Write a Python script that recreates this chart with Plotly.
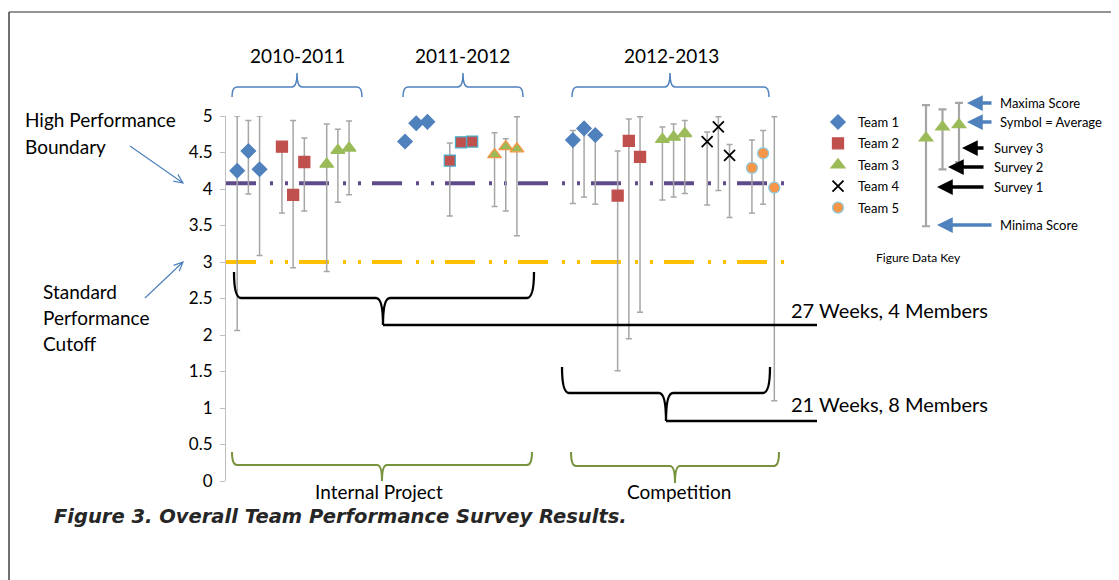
import plotly.graph_objects as go
import numpy as np

# page body has an 8px margin: figure covers the window from (8, 8) onwards
OX, OY = 8, 8
W, H = 1119 - OX, 580 - OY

# ---------------- data ----------------
periods = ["2010-2011", "2011-2012", "2012-2013"]
period_teams = [[1, 2, 3], [1, 2, 3], [1, 2, 3, 4, 5]]
team_names = ["Team 1", "Team 2", "Team 3", "Team 4", "Team 5"]

t1_avg = [4.25, 4.52, 4.27, 4.65, 4.90, 4.92, 4.67, 4.83, 4.74]
t1_max = [5.00, 4.94, 5.00, None, None, None, 4.80, 4.88, 4.79]
t1_min = [2.06, 3.93, 3.09, None, None, None, 3.80, 3.89, 3.79]

t2_avg = [4.58, 3.92, 4.37, 4.39, 4.64, 4.65, 3.91, 4.66, 4.44]
t2_max = [4.62, 4.94, 4.70, 4.63, None, None, 4.52, 4.96, 4.99]
t2_min = [3.67, 2.92, 3.70, 3.63, None, None, 1.51, 1.95, 2.31]

t3_avg = [4.34, 4.53, 4.56, 4.47, 4.58, 4.55, 4.68, 4.71, 4.76]
t3_max = [4.89, 4.82, 4.93, 4.77, 4.69, 4.99, 4.85, 4.89, 4.94]
t3_min = [2.87, 3.82, 3.92, 3.76, 3.70, 3.36, 3.85, 3.89, 3.94]

t4_avg = [4.65, 4.85, 4.46]
t4_max = [4.78, 4.99, 4.61]
t4_min = [3.78, 3.98, 3.61]

t5_avg = [4.29, 4.49, 4.02]
t5_max = [4.67, 4.80, 4.99]
t5_min = [3.67, 3.79, 1.10]

high_boundary = 4.08
standard_cutoff = 3.0

y_ticks = [0, 0.5, 1, 1.5, 2, 2.5, 3, 3.5, 4, 4.5, 5]

key_avg = [4.70, 4.85, 4.88]
key_max = [5.15, 5.09, 5.18]
key_min = [3.49, 4.27, 4.37]

# ---------------- styles ----------------
team_symbols = ["diamond", "square", "triangle-up", "x-thin", "circle"]
team_colors = ["#4F81BD", "#C0504D", "#9BBB59", "#000000", "#F79646"]
team_sizes = [11, 11, 12, 11, 11]
team_edges = [
    ["#4F81BD", "#4F81BD", "#4F81BD"],
    ["#C0504D", "#4BACC6", "#C0504D"],
    ["#9BBB59", "#F79646", "#9BBB59"],
    ["#000000", "#000000", "#000000"],
    ["#8CCBE3", "#8CCBE3", "#8CCBE3"],
]
FONT = "Lato"
ERR = "#A6A6A6"
BLUE = "#4F81BD"
GREEN = "#77933C"

# ---------------- slot layout ----------------
period_start = [0]
for p in range(1, len(period_teams)):
    period_start.append(period_start[-1] + 4 * len(period_teams[p - 1]) + 3)

avgs = [t1_avg, t2_avg, t3_avg, t4_avg, t5_avg]
maxs = [t1_max, t2_max, t3_max, t4_max, t5_max]
mins = [t1_min, t2_min, t3_min, t4_min, t5_min]


def P(px, py):
    """reference-window pixel -> paper fraction"""
    return (px - OX) / W, 1 - (py - OY) / H


fig = go.Figure()

last_slot = period_start[-1] + 4 * len(period_teams[-1]) - 2
x_lo = -1.0
px_per_slot = 11.19
x_hi = x_lo + (790 - 226) / px_per_slot

dash = "30px,14px,3px,12px,3px,11px"
fig.add_trace(go.Scatter(x=[x_lo, last_slot + 1.2], y=[high_boundary] * 2, mode="lines",
                         line=dict(color="#5F4B8B", width=4, dash=dash), showlegend=False,
                         hoverinfo="skip"))
fig.add_trace(go.Scatter(x=[x_lo, last_slot + 1.3], y=[standard_cutoff] * 2, mode="lines",
                         line=dict(color="#FFC000", width=4, dash=dash), showlegend=False,
                         hoverinfo="skip"))

for k in range(5):
    team = k + 1
    xs, edge = [], []
    for p, teams in enumerate(period_teams):
        if team in teams:
            pos = teams.index(team)
            for s in range(3):
                xs.append(period_start[p] + 4 * pos + s)
                edge.append(team_edges[k][p])
    a = np.array(avgs[k], dtype=float)
    mx = np.array([np.nan if v is None else v for v in maxs[k]], dtype=float)
    mn = np.array([np.nan if v is None else v for v in mins[k]], dtype=float)
    if team == 4:
        marker = dict(symbol=team_symbols[k], size=team_sizes[k],
                      line=dict(color="#000000", width=1.8))
    else:
        marker = dict(symbol=team_symbols[k], size=team_sizes[k], color=team_colors[k],
                      line=dict(color=edge, width=1.3))
    fig.add_trace(go.Scatter(
        x=xs, y=a, mode="markers", name=team_names[k], marker=marker,
        legendgroup=team_names[k],
        error_y=dict(type="data", symmetric=False, array=mx - a, arrayminus=a - mn,
                     color=ERR, thickness=1.5, width=3),
        cliponaxis=False,
    ))

ka = np.array(key_avg)
fig.add_trace(go.Scatter(
    x=list(range(len(key_avg))), y=ka, mode="markers", xaxis="x2", yaxis="y2",
    marker=dict(symbol="triangle-up", size=14, color="#9BBB59"),
    error_y=dict(type="data", symmetric=False, array=np.array(key_max) - ka,
                 arrayminus=ka - np.array(key_min), color=ERR, thickness=2.2, width=4),
    showlegend=False, cliponaxis=False, hoverinfo="skip"))


def brace(x0, x1, xc, y_end, y_mid, y_tip, r, color, width):
    pts = [
        ("M", [(x0, y_end)]),
        ("Q", [(x0, y_mid), (x0 + r, y_mid)]),
        ("L", [(xc - r, y_mid)]),
        ("Q", [(xc, y_mid), (xc, y_tip)]),
        ("Q", [(xc, y_mid), (xc + r, y_mid)]),
        ("L", [(x1 - r, y_mid)]),
        ("Q", [(x1, y_mid), (x1, y_end)]),
    ]
    s = ""
    for cmd, pl in pts:
        s += cmd + " " + " ".join("%.5f,%.5f" % P(*q) for q in pl) + " "
    return dict(type="path", xref="paper", yref="paper", path=s.strip(),
                line=dict(color=color, width=width))


def hline(xa, xb, y, color, width):
    (a, yy), (b, _) = P(xa, y), P(xb, y)
    return dict(type="line", xref="paper", yref="paper", x0=a, x1=b, y0=yy, y1=yy,
                line=dict(color=color, width=width))


def thin_arrow(tail, head, color):
    tx, ty = tail
    hx, hy = head
    ang = np.arctan2(ty - hy, tx - hx)
    L = 10
    pts = [(hx + L * np.cos(ang + d), hy + L * np.sin(ang + d)) for d in (0.42, -0.42)]
    s = "M %.5f,%.5f L %.5f,%.5f " % (*P(tx, ty), *P(hx, hy))
    s += "M %.5f,%.5f L %.5f,%.5f L %.5f,%.5f" % (*P(*pts[0]), *P(hx, hy), *P(*pts[1]))
    return dict(type="path", xref="paper", yref="paper", path=s,
                line=dict(color=color, width=1.2))


shapes = []
# frame
fx, fy = P(9, 12)
shapes.append(dict(type="line", xref="paper", yref="paper", x0=fx, x1=1.01,
                   y0=fy, y1=fy, line=dict(color="#707070", width=1.5)))
shapes.append(dict(type="line", xref="paper", yref="paper", x0=fx, x1=fx,
                   y0=fy, y1=-0.01, line=dict(color="#404040", width=1.5)))
for (x0, x1, xc) in [(232, 362, 297), (403, 523, 463), (572, 769, 670)]:
    shapes.append(brace(x0, x1, xc, 97, 87, 73, 5, BLUE, 1.5))
shapes.append(brace(234, 534, 383, 272, 298, 325, 7, "#000000", 2.3))
shapes.append(hline(383, 817, 325, "#000000", 2.3))
shapes.append(brace(562, 770, 666, 367, 393, 421, 7, "#000000", 2.3))
shapes.append(hline(666, 817, 421, "#000000", 2.3))
shapes.append(brace(232, 532, 382, 452, 465, 481, 5, GREEN, 2))
shapes.append(brace(571, 779, 675, 452, 466, 483, 5, GREEN, 2))
shapes.append(thin_arrow((130, 146), (183, 183), BLUE))
shapes.append(thin_arrow((145, 298), (183, 262), BLUE))

annotations = []


def text(t, px, py, size, xanchor="left", color="#000000", family=FONT):
    x, y = P(px, py)
    annotations.append(dict(text=t, x=x, y=y, xref="paper", yref="paper", showarrow=False,
                            xanchor=xanchor, yanchor="middle",
                            font=dict(family=family, size=size, color=color)))


for lab, cx in zip(periods, [297, 462, 671]):
    text(lab, cx, 55, 19, xanchor="center")

text("High Performance", 23, 119, 19)
text("Boundary", 23, 146, 19)
text("Standard", 41, 291, 19)
text("Performance", 41, 317, 19)
text("Cutoff", 41, 343, 19)

text("27 Weeks, 4 Members", 789, 310, 20)
text("21 Weeks, 8 Members", 789, 404, 20)
text("Internal Project", 379, 491, 19, xanchor="center")
text("Competition", 679, 491, 19, xanchor="center")

text("Maxima Score", 998, 103, 13)
text("Symbol = Average", 998, 122, 13)
text("Survey 3", 992, 148, 13)
text("Survey 2", 992, 167, 13)
text("Survey 1", 992, 187, 13)
text("Minima Score", 998, 225, 13)
text("Figure Data Key", 918, 257, 12, xanchor="center")

text("<b><i>Figure 3. Overall Team Performance Survey Results.</i></b>", 52, 516, 19.5,
     color="#262626", family="DejaVu Sans")


def arrow(head, tail, color):
    x, y = P(*head)
    annotations.append(dict(text="", x=x, y=y, xref="paper", yref="paper", showarrow=True,
                            ax=tail[0] - head[0], ay=tail[1] - head[1], arrowhead=2,
                            arrowsize=0.9, arrowwidth=3.5, arrowcolor=color, standoff=0))


arrow((967, 103), (993, 103), BLUE)
arrow((967, 122), (993, 122), BLUE)
arrow((962, 148), (985, 148), "#000000")
arrow((948, 167), (985, 167), "#000000")
arrow((937, 187), (985, 187), "#000000")
arrow((937, 225), (993, 225), BLUE)

# y scale: 73 px per unit, value 0 at window row 481
y_lo_full = (481 - (OY + H)) / 73.0
y_hi_full = (481 - OY) / 73.0

xd0, _ = P(226, 0)
xd1, _ = P(790, 0)
_, yd0 = P(0, 481)
_, yd1 = P(0, 116)
kx0, _ = P(909.5, 0)
kx1, _ = P(975.5, 0)
lx, ly = P(818, 107)

fig.update_layout(
    width=W, height=H,
    margin=dict(l=0, r=0, t=0, b=0, autoexpand=False),
    paper_bgcolor="white", plot_bgcolor="rgba(0,0,0,0)",
    font=dict(family=FONT, color="#000000"),
    xaxis=dict(domain=[xd0, xd1], range=[x_lo, x_hi], visible=False, anchor="y"),
    yaxis=dict(domain=[yd0, yd1], range=[0, 5], anchor="x",
               tickvals=y_ticks, ticktext=[("%g" % v) for v in y_ticks],
               showline=True, linecolor="#BFBFBF", linewidth=1, ticks="outside",
               ticklen=5, tickcolor="#BFBFBF", showgrid=False, zeroline=False,
               tickfont=dict(family=FONT, size=17, color="#000000"),
               ticklabelstandoff=4),
    xaxis2=dict(domain=[kx0, kx1], range=[-1, 3], visible=False, anchor="y2"),
    yaxis2=dict(domain=[0, 1], range=[y_lo_full, y_hi_full], visible=False, anchor="x2"),
    legend=dict(x=lx, y=ly, xanchor="left", yanchor="top",
                bgcolor="rgba(0,0,0,0)", font=dict(family=FONT, size=13, color="#000000"),
                itemwidth=30, tracegroupgap=1.5),
    shapes=shapes,
    annotations=annotations,
    showlegend=True,
)

fig.write_html("out.html")
